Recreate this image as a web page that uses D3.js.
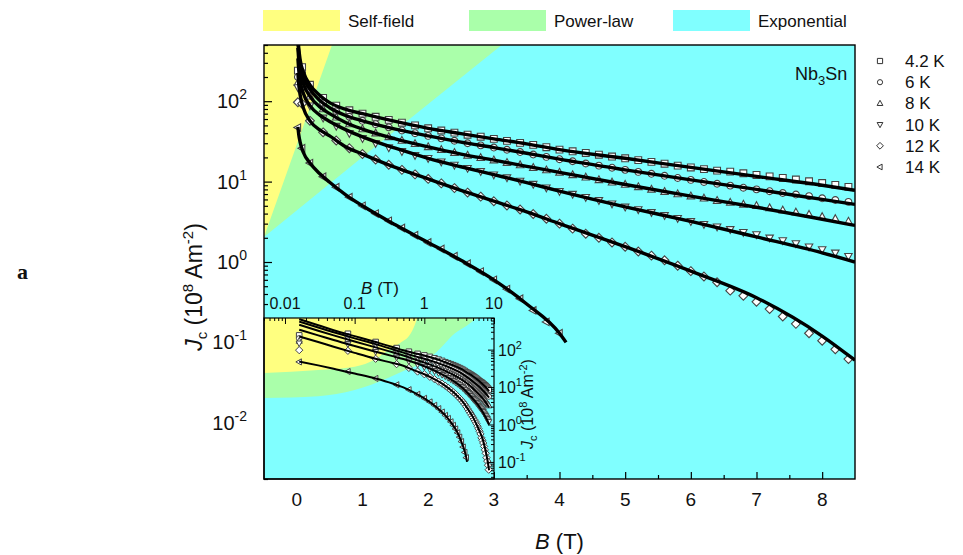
<!doctype html>
<html lang="en">
<head>
<meta charset="utf-8"/>
<title>Nb3Sn Jc(B)</title>
<script src="https://d3js.org/d3.v7.min.js"></script>
<style>
  body { margin: 0; background: #fff; }
  text { font-family: "Liberation Sans", Arial, sans-serif; fill: #111; }
</style>
</head>
<body>
<svg id="chart" width="963" height="555"></svg>
<script>
// ---- data (Jc in 10^8 A/m^2, B in T) ----
var temps = ["4.2 K", "6 K", "8 K", "10 K", "12 K", "14 K"];
var shapes = ["square", "circle", "up", "down", "diamond", "left"];

// fitted curves (nodes)
var fitB = [0.016, 0.03, 0.05, 0.1, 0.2, 0.35, 0.5, 0.75, 1, 1.5, 2, 2.5, 3, 3.5, 4, 5, 6, 7, 8, 8.5];
var fit4 = [650, 450, 330, 230, 160, 118, 96, 79, 70, 56, 46, 39.5, 34, 29.5, 25, 19.5, 15, 11.6, 9, 7.8];
var fit6 = [560, 390, 290, 200, 140, 102, 83, 66, 57, 45, 37, 31, 26.5, 22.5, 19, 14, 10.5, 8, 6, 5.2];
var fit8 = [460, 320, 240, 165, 115, 85, 70, 54, 45, 34, 27, 22, 18.5, 15.5, 13, 9.2, 6.6, 4.8, 3.4, 2.85];
var fit10 = [340, 240, 180, 125, 88, 67, 56, 44, 36, 26, 19.5, 15.3, 12.2, 9.7, 7.6, 4.85, 3.2, 2.05, 1.3, 1.0];
var fit12 = [225, 160, 120, 82, 57, 44, 37, 27, 22, 15, 10.8, 7.8, 5.7, 4.2, 3.0, 1.55, 0.77, 0.36, 0.12, 0.06];
var fitB14 = [0.016, 0.03, 0.05, 0.1, 0.2, 0.35, 0.5, 0.75, 1, 1.5, 2, 2.5, 3, 3.5, 4, 4.1];
var fit14 = [48, 38, 31, 23, 17, 12.5, 9.8, 6.8, 5.0, 2.9, 1.75, 1.05, 0.6, 0.3, 0.13, 0.1];

// measured points
var gridB = [0.016, 0.08, 0.2, 0.4, 0.6, 0.8, 1.0, 1.2, 1.4, 1.6, 1.8, 2.0, 2.2, 2.4, 2.6, 2.8, 3.0,
             3.2, 3.4, 3.6, 3.8, 4.0, 4.2, 4.4, 4.6, 4.8, 5.0, 5.2, 5.4, 5.6, 5.8, 6.0,
             6.2, 6.4, 6.6, 6.8, 7.0, 7.2, 7.4, 7.6, 7.8, 8.0, 8.2, 8.4];
var jc4 = [240, 265, 160, 110, 88, 77, 70, 64, 58.5, 54, 50, 46, 43.2, 40.7, 38.3, 36.2, 34,
           32.1, 30.3, 28.6, 26.8, 25, 23.8, 22.7, 21.6, 20.5, 19.5, 18.5, 17.6, 16.7, 15.8, 15,
           14.3, 13.7, 13.3, 12.7, 12.1, 11.6, 11.1, 10.6, 10.1, 9.6, 9.1, 8.6];
var jc6 = [200, 228, 140, 95, 75, 64, 57, 51.8, 47.3, 43.3, 40, 37, 34.5, 32.2, 30, 28.2, 26.5,
           24.9, 23.3, 21.7, 20.3, 19, 17.9, 16.8, 15.8, 14.9, 14, 13.2, 12.5, 11.8, 11.1, 10.5,
           9.9, 9.4, 8.9, 8.4, 8.0, 7.6, 7.2, 6.9, 6.6, 6.2, 5.9, 5.6];
var jc8 = [170, 190, 115, 80, 63, 52, 45, 40, 36, 32.4, 29.5, 27, 24.9, 22.9, 21.2, 19.8, 18.5,
           17.2, 16.1, 14.9, 13.9, 13, 12.1, 11.3, 10.5, 9.8, 9.2, 8.6, 8.0, 7.5, 7.0, 6.6,
           6.2, 5.8, 5.5, 5.2, 5.0, 4.7, 4.4, 4.15, 3.9, 3.65, 3.45, 3.2];
var jc10 = [148, 140, 88, 62, 49, 40, 34.5, 30, 26.5, 23.8, 21.3, 19.5, 17.7, 16.1, 14.7, 13.4, 12.2,
            11.2, 10.2, 9.3, 8.4, 7.6, 7.0, 6.4, 5.85, 5.3, 4.85, 4.5, 4.15, 3.8, 3.5, 3.2,
            2.95, 2.75, 2.55, 2.35, 2.2, 2.0, 1.85, 1.7, 1.55, 1.43, 1.3, 1.18];
var jc12 = [97, 93, 57, 41, 32.5, 26, 22, 18.8, 16.2, 14, 12.3, 10.8, 9.5, 8.3, 7.3, 6.5, 5.7,
            5.05, 4.5, 3.95, 3.45, 3.0, 2.6, 2.25, 2.0, 1.75, 1.55, 1.35, 1.2, 1.05, 0.9, 0.77,
            0.66, 0.56, 0.44, 0.38, 0.32, 0.26, 0.21, 0.17, 0.13, 0.105, 0.082, 0.062];
var jc14 = [47, 26, 17, 11.5, 8.5, 6.4, 5.0, 4.0, 3.25, 2.65, 2.15, 1.75, 1.45, 1.18, 0.95, 0.76, 0.6,
            0.46, 0.35, 0.25, 0.18, 0.13];

// region boundaries (main plot, linear B)
var sfB = [-0.5, 0, 0.535];
var sfJc = [2.05, 29, 500];
var plB = [-0.5, 1.3, 3.12];
var plJc = [2.05, 32, 500];
// region boundaries (inset, log B)
var insSfB = [0.005, 0.03, 0.1, 0.2, 0.3, 0.45, 0.64, 0.72, 0.79];
var insSfJc = [23.7, 28.5, 35, 56, 97, 150, 272, 428, 700];
var insPlB = [0.005, 0.03, 0.1, 0.3, 0.5, 0.91, 1.5, 2.75, 4.0, 5.7];
var insPlJc = [5.1, 5.7, 8.3, 17.4, 26.8, 43, 86, 272, 428, 700];

var regions = ["Self-field", "Power-law", "Exponential"];
var regionColors = ["#ffff80", "#aaffaa", "#80ffff"];

var xTicks = [0, 1, 2, 3, 4, 5, 6, 7, 8];
var yTicks = [0.01, 0.1, 1, 10, 100];
var ixTicks = [0.01, 0.1, 1, 10];
var ixLabels = ["0.01", "0.1", "1", "10"];
var iyTicks = [0.1, 1, 10, 100];

var fits = [[fitB, fit4], [fitB, fit6], [fitB, fit8], [fitB, fit10], [fitB, fit12], [fitB14, fit14]];
var points = [jc4, jc6, jc8, jc10, jc12, jc14];

// ---- layout ----
var m = {left: 264, right: 855, top: 45, bottom: 479};
var ins = {left: 264, right: 494, top: 318, bottom: 479};

var svg = d3.select("#chart");

var x = d3.scaleLinear().domain([-0.5, 8.5]).range([m.left, m.right]);
var y = d3.scaleLog().domain([0.002, 500]).range([m.bottom, m.top]);
var ix = d3.scaleLog().domain([0.005, 10]).range([ins.left, ins.right]);
var iy = d3.scaleLog().domain([0.035, 700]).range([ins.bottom, ins.top]);

var defs = svg.append("defs");
defs.append("clipPath").attr("id", "clipMain").append("rect")
  .attr("x", m.left).attr("y", m.top).attr("width", m.right - m.left).attr("height", m.bottom - m.top);
defs.append("clipPath").attr("id", "clipInset").append("rect")
  .attr("x", ins.left).attr("y", ins.top).attr("width", ins.right - ins.left).attr("height", ins.bottom - ins.top);

function markerPath(type, s) {
  if (type == "square") return "M" + (-s) + "," + (-s) + "h" + (2 * s) + "v" + (2 * s) + "h" + (-2 * s) + "Z";
  if (type == "circle") return "M" + s + ",0A" + s + "," + s + " 0 1,1 " + (-s) + ",0A" + s + "," + s + " 0 1,1 " + s + ",0Z";
  if (type == "up") return "M0," + (-s * 1.2) + "L" + (s * 1.1) + "," + (s * 0.8) + "L" + (-s * 1.1) + "," + (s * 0.8) + "Z";
  if (type == "down") return "M0," + (s * 1.2) + "L" + (s * 1.1) + "," + (-s * 0.8) + "L" + (-s * 1.1) + "," + (-s * 0.8) + "Z";
  if (type == "diamond") return "M0," + (-s * 1.3) + "L" + (s * 1.3) + ",0L0," + (s * 1.3) + "L" + (-s * 1.3) + ",0Z";
  return "M" + (-s * 1.2) + ",0L" + (s * 0.8) + "," + (-s * 1.1) + "L" + (s * 0.8) + "," + (s * 1.1) + "Z";
}

// ---- main plot ----
var gMain = svg.append("g").attr("clip-path", "url(#clipMain)");
gMain.append("rect").attr("x", m.left).attr("y", m.top)
  .attr("width", m.right - m.left).attr("height", m.bottom - m.top).attr("fill", regionColors[2]);

var areaMain = d3.area().x(function(d) { return x(d[0]); })
  .y0(m.top).y1(function(d) { return y(d[1]); }).curve(d3.curveMonotoneX);
gMain.append("path").datum(d3.zip(plB, plJc)).attr("d", areaMain).attr("fill", regionColors[1]);
gMain.append("path").datum(d3.zip(sfB, sfJc)).attr("d", areaMain).attr("fill", regionColors[0]);

points.forEach(function(jc, i) {
  gMain.selectAll(".pt" + i).data(d3.zip(gridB, jc)).enter().append("path")
    .attr("transform", function(d) { return "translate(" + x(d[0]) + "," + y(d[1]) + ")"; })
    .attr("d", markerPath(shapes[i], 3.4))
    .attr("fill", "#fff").attr("stroke", "#444").attr("stroke-width", 1.1);
});

var lineMain = d3.line().x(function(d) { return x(d[0]); })
  .y(function(d) { return y(d[1]); }).curve(d3.curveMonotoneX);
fits.forEach(function(f) {
  gMain.append("path").datum(d3.zip(f[0], f[1])).attr("d", lineMain)
    .attr("fill", "none").attr("stroke", "#000").attr("stroke-width", 3.4);
});

// left axis
var yMinor = [];
[0.001, 0.01, 0.1, 1, 10, 100].forEach(function(d) {
  for (var k = 2; k <= 9; k++) { var v = d * k; if (v >= 0.002 && v <= 500) yMinor.push(v); }
});
var gy = svg.append("g").attr("transform", "translate(" + m.left + ",0)");
gy.call(d3.axisLeft(y).tickValues(yTicks).tickSize(-8).tickFormat(""));
gy.append("g").call(d3.axisLeft(y).tickValues(yMinor).tickSize(-4).tickFormat(""));
gy.selectAll(".domain").remove();
gy.selectAll("line").attr("stroke", "#000").attr("stroke-width", 1.2);

svg.selectAll(".ylab").data(yTicks).enter().append("text")
  .attr("x", 247).attr("y", function(d) { return y(d) + 7; })
  .attr("text-anchor", "end").attr("font-size", 20)
  .each(function(d) {
    var t = d3.select(this);
    t.append("tspan").text("10");
    t.append("tspan").attr("dy", -9).attr("font-size", 14).text(Math.round(Math.log10(d)));
  });

// bottom axis
var xMinor = [0.5, 1.5, 2.5, 3.5, 4.5, 5.5, 6.5, 7.5];
var gx = svg.append("g").attr("transform", "translate(0," + m.bottom + ")");
gx.call(d3.axisBottom(x).tickValues(xTicks).tickSize(-7).tickFormat(""));
gx.append("g").call(d3.axisBottom(x).tickValues(xMinor).tickSize(-4).tickFormat(""));
gx.selectAll(".domain").remove();
gx.selectAll("line").attr("stroke", "#000").attr("stroke-width", 1.2);

svg.selectAll(".xlab").data(xTicks).enter().append("text")
  .attr("x", function(d) { return x(d); }).attr("y", 506)
  .attr("text-anchor", "middle").attr("font-size", 19).text(function(d) { return d; });

// ---- inset ----
var gIns = svg.append("g").attr("clip-path", "url(#clipInset)");
gIns.append("rect").attr("x", ins.left).attr("y", ins.top)
  .attr("width", ins.right - ins.left).attr("height", ins.bottom - ins.top).attr("fill", regionColors[2]);
var areaIns = d3.area().x(function(d) { return ix(d[0]); })
  .y0(ins.top).y1(function(d) { return iy(d[1]); }).curve(d3.curveMonotoneX);
gIns.append("path").datum(d3.zip(insPlB, insPlJc)).attr("d", areaIns).attr("fill", regionColors[1]);
gIns.append("path").datum(d3.zip(insSfB, insSfJc)).attr("d", areaIns).attr("fill", regionColors[0]);

points.forEach(function(jc, i) {
  gIns.selectAll(".ipt" + i).data(d3.zip(gridB, jc)).enter().append("path")
    .attr("transform", function(d) { return "translate(" + ix(d[0]) + "," + iy(d[1]) + ")"; })
    .attr("d", markerPath(shapes[i], 2.8))
    .attr("fill", "#fff").attr("stroke", "#444").attr("stroke-width", 1);
});
var lineIns = d3.line().x(function(d) { return ix(d[0]); })
  .y(function(d) { return iy(d[1]); }).curve(d3.curveMonotoneX);
fits.forEach(function(f) {
  gIns.append("path").datum(d3.zip(f[0], f[1])).attr("d", lineIns)
    .attr("fill", "none").attr("stroke", "#000").attr("stroke-width", 2);
});

// inset axes
var ixMinor = [];
[0.001, 0.01, 0.1, 1].forEach(function(d) {
  for (var k = 2; k <= 9; k++) { var v = d * k; if (v >= 0.005 && v <= 10) ixMinor.push(v); }
});
var gix = svg.append("g").attr("transform", "translate(0," + ins.top + ")");
gix.call(d3.axisTop(ix).tickValues(ixTicks).tickSize(-6).tickFormat(""));
gix.append("g").call(d3.axisTop(ix).tickValues(ixMinor).tickSize(-3).tickFormat(""));
gix.selectAll(".domain").remove();
gix.selectAll("line").attr("stroke", "#000");

var iyMinor = [];
[0.01, 0.1, 1, 10, 100].forEach(function(d) {
  for (var k = 2; k <= 9; k++) { var v = d * k; if (v >= 0.035 && v <= 700) iyMinor.push(v); }
});
var giy = svg.append("g").attr("transform", "translate(" + ins.right + ",0)");
giy.call(d3.axisRight(iy).tickValues(iyTicks).tickSize(-6).tickFormat(""));
giy.append("g").call(d3.axisRight(iy).tickValues(iyMinor).tickSize(-3).tickFormat(""));
giy.selectAll(".domain").remove();
giy.selectAll("line").attr("stroke", "#000");

svg.append("rect").attr("x", ins.left).attr("y", ins.top)
  .attr("width", ins.right - ins.left).attr("height", ins.bottom - ins.top)
  .attr("fill", "none").attr("stroke", "#000").attr("stroke-width", 1.2);

svg.selectAll(".ixlab").data(ixTicks).enter().append("text")
  .attr("x", function(d) { return ix(d); }).attr("y", 309)
  .attr("text-anchor", "middle").attr("font-size", 16)
  .text(function(d, i) { return ixLabels[i]; });

svg.selectAll(".iylab").data(iyTicks).enter().append("text")
  .attr("x", 498).attr("y", function(d) { return iy(d) + 6; })
  .attr("font-size", 16)
  .each(function(d) {
    var t = d3.select(this);
    t.append("tspan").text("10");
    t.append("tspan").attr("dy", -7).attr("font-size", 11).text(Math.round(Math.log10(d)));
  });

var ibl = svg.append("text").attr("x", 380).attr("y", 294)
  .attr("text-anchor", "middle").attr("font-size", 17);
ibl.append("tspan").attr("font-style", "italic").text("B");
ibl.append("tspan").text(" (T)");

var ijl = svg.append("text").attr("transform", "translate(533,404) rotate(-90)")
  .attr("text-anchor", "middle").attr("font-size", 16);
ijl.append("tspan").attr("font-style", "italic").text("J");
ijl.append("tspan").attr("dy", 4).attr("font-size", 11).text("c");
ijl.append("tspan").attr("dy", -4).text(" (10");
ijl.append("tspan").attr("dy", -6).attr("font-size", 11).text("8");
ijl.append("tspan").attr("dy", 6).text(" Am");
ijl.append("tspan").attr("dy", -6).attr("font-size", 11).text("-2");
ijl.append("tspan").attr("dy", 6).text(")");

// main frame
svg.append("rect").attr("x", m.left).attr("y", m.top)
  .attr("width", m.right - m.left).attr("height", m.bottom - m.top)
  .attr("fill", "none").attr("stroke", "#000").attr("stroke-width", 1.4);

// axis titles
var xl = svg.append("text").attr("x", (m.left + m.right) / 2).attr("y", 549)
  .attr("text-anchor", "middle").attr("font-size", 22);
xl.append("tspan").attr("font-style", "italic").text("B");
xl.append("tspan").text(" (T)");

var yl = svg.append("text").attr("transform", "translate(202,287) rotate(-90)")
  .attr("text-anchor", "middle").attr("font-size", 23);
yl.append("tspan").attr("font-style", "italic").text("J");
yl.append("tspan").attr("dy", 5).attr("font-size", 15).text("c");
yl.append("tspan").attr("dy", -5).text(" (10");
yl.append("tspan").attr("dy", -9).attr("font-size", 15).text("8");
yl.append("tspan").attr("dy", 9).text(" Am");
yl.append("tspan").attr("dy", -9).attr("font-size", 15).text("-2");
yl.append("tspan").attr("dy", 9).text(")");

var nb = svg.append("text").attr("x", 795).attr("y", 80).attr("font-size", 18);
nb.append("tspan").text("Nb");
nb.append("tspan").attr("dy", 5).attr("font-size", 13).text("3");
nb.append("tspan").attr("dy", -5).text("Sn");

svg.append("text").attr("x", 17).attr("y", 279).attr("font-size", 22)
  .attr("font-weight", "bold").style("font-family", "'Liberation Serif', 'Times New Roman', serif").text("a");

// ---- top legend ----
var legX = [263, 469, 673];
regions.forEach(function(r, i) {
  svg.append("rect").attr("x", legX[i]).attr("y", 10).attr("width", 77).attr("height", 21)
    .attr("fill", regionColors[i]);
  svg.append("text").attr("x", legX[i] + 85).attr("y", 27).attr("font-size", 17).text(r);
});

// ---- right legend ----
temps.forEach(function(t, i) {
  var yy = 61 + i * 21.2;
  svg.append("path").attr("transform", "translate(880," + yy + ")")
    .attr("d", markerPath(shapes[i], 2.6))
    .attr("fill", "#fff").attr("stroke", "#333").attr("stroke-width", 1);
  svg.append("text").attr("x", 905).attr("y", yy + 6).attr("font-size", 17).text(t);
});
</script>
</body>
</html>
